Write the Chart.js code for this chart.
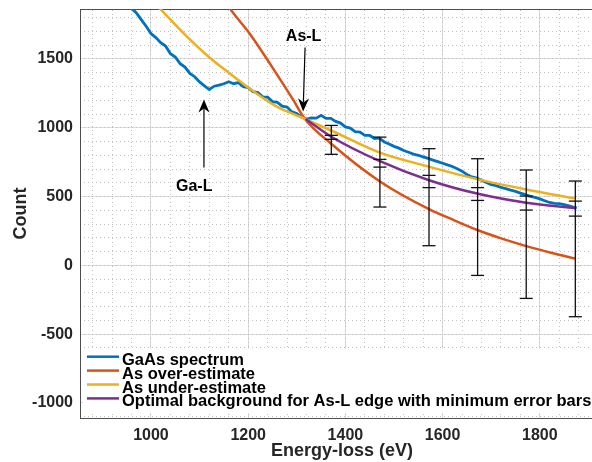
<!DOCTYPE html>
<html>
<head>
<meta charset="utf-8">
<script src="https://cdn.jsdelivr.net/npm/chart.js@4.4.1/dist/chart.umd.min.js"></script>
<style>
  html, body { margin: 0; padding: 0; background: #fff; overflow: hidden; }
  #wrap { width: 592px; height: 462px; overflow: hidden; }
</style>
</head>
<body>
<div id="wrap"><canvas id="chart" width="604" height="462"></canvas></div>
<script>
const FONT = '"Liberation Sans", Arial, Helvetica, sans-serif';
const TEXT = '#262626';

// GaAs spectrum, energy-loss (eV) vs counts
const spectrumE = [950, 960, 970, 980, 990, 1000, 1010, 1020, 1030, 1040, 1050, 1060, 1070, 1080, 1090,
  1100, 1110, 1120, 1130, 1140, 1150, 1160, 1170, 1180, 1190, 1200, 1210, 1220, 1230, 1240, 1250,
  1260, 1270, 1280, 1290, 1300, 1310, 1320, 1330, 1340, 1350, 1360, 1370, 1380, 1390, 1400, 1410,
  1420, 1430, 1440, 1450, 1460, 1470, 1480, 1490, 1500, 1510, 1520, 1530, 1540, 1550, 1560, 1570,
  1580, 1590, 1600, 1610, 1620, 1630, 1640, 1650, 1660, 1670, 1680, 1690, 1700, 1710, 1720, 1730,
  1740, 1750, 1760, 1770, 1780, 1790, 1800, 1810, 1820, 1830, 1840, 1850, 1860, 1870, 1876];
const spectrumCounts = [1920, 1868, 1835, 1786, 1738, 1684, 1655, 1618, 1594, 1538, 1514, 1466, 1441, 1395, 1371,
  1333, 1305, 1278, 1302, 1310, 1320, 1334, 1320, 1328, 1298, 1292, 1262, 1255, 1225, 1222, 1190,
  1185, 1157, 1150, 1115, 1103, 1076, 1063, 1072, 1070, 1090, 1068, 1068, 1046, 1034, 1006, 998,
  972, 968, 945, 944, 922, 924, 897, 882, 865, 852, 835, 822, 809, 800, 789, 778,
  765, 754, 742, 730, 719, 702, 685, 660, 643, 634, 619, 602, 587, 580, 567, 558,
  547, 538, 525, 514, 501, 494, 483, 470, 457, 450, 449, 442, 433, 422, 418];

// As over-estimate background
const overE = [1140, 1162, 1204, 1248, 1292, 1316, 1372, 1471, 1573, 1623, 1673, 1722, 1772, 1823, 1874];
const overCounts = [1990, 1868, 1680, 1448, 1206, 1068, 880, 610, 407, 329, 255, 194, 140, 92, 49];

// As under-estimate background
const underE = [1000, 1018, 1073, 1121, 1169, 1210, 1258, 1316, 1382, 1471, 1573, 1673, 1772, 1872];
const underCounts = [1935, 1868, 1666, 1509, 1376, 1267, 1155, 1066, 962, 819, 716, 625, 552, 487];

// optimal background
const optimalE = [1318, 1371, 1471, 1572, 1673, 1772, 1873];
const optimalCounts = [1064, 935, 757, 619, 520, 455, 415];

// error bars
const errE = [1371, 1471, 1572, 1672, 1772, 1873];
const errHigh = [1017, 932, 848, 775, 693, 613];
const errLow = [807, 424, 143, -73, -240, -373];
const errInnerHigh = [945, 770, 654, 565, 504, 467];
const errInnerLow = [916, 714, 565, 472, 402, 358];

const legendLabels = ['GaAs spectrum', 'As over-estimate', 'As under-estimate',
  'Optimal background for As-L edge with minimum error bars'];
const colors = ['#0072BD', '#D95319', '#EDB120', '#7E2F8E'];

const xTickValues = [1000, 1200, 1400, 1600, 1800];
const yTickValues = [-1000, -500, 0, 500, 1000, 1500];
const X_MIN = 854, X_MAX = 1932, Y_MIN = -1109, Y_MAX = 1863;

const annotations = [
  { text: 'Ga-L', tx: 1089, ty: 576, from: [1109, 712], to: [1109, 1206] },
  { text: 'As-L', tx: 1314, ty: 1661, from: [1317, 1584], to: [1313, 1119] }
];

function pairs(xs, ys) {
  return xs.map((x, i) => ({ x: x, y: ys[i] }));
}

function stepTicks(from, to, step) {
  const t = [];
  for (let v = from; v <= to; v += step) t.push({ value: v });
  return t;
}

function noPadding(s) {
  s.paddingTop = 0; s.paddingBottom = 0; s.paddingLeft = 0; s.paddingRight = 0;
}

const errBarPoints = [];
errE.forEach((e, i) => {
  errBarPoints.push({ x: e, y: errLow[i] }, { x: e, y: errHigh[i] }, { x: e, y: null });
});
const errInnerPoints = [];
errE.forEach((e, i) => {
  errInnerPoints.push({ x: e, y: errInnerLow[i] }, { x: e, y: errInnerHigh[i] });
});

function drawArrow(ctx, x1, y1, x2, y2) {
  const a = Math.atan2(y2 - y1, x2 - x1);
  const c = Math.cos(a), s = Math.sin(a);
  const len = 13, half = 5.5, notch = 9;
  ctx.strokeStyle = '#000';
  ctx.fillStyle = '#000';
  ctx.lineWidth = 1.2;
  ctx.beginPath();
  ctx.moveTo(x1, y1);
  ctx.lineTo(x2 - c * notch, y2 - s * notch);
  ctx.stroke();
  ctx.beginPath();
  ctx.moveTo(x2, y2);
  ctx.lineTo(x2 - len * c + half * s, y2 - len * s - half * c);
  ctx.lineTo(x2 - notch * c, y2 - notch * s);
  ctx.lineTo(x2 - len * c - half * s, y2 - len * s + half * c);
  ctx.closePath();
  ctx.fill();
}

const overlayPlugin = {
  id: 'overlay',
  afterDatasetsDraw(chart) {
    const { ctx, chartArea } = chart;
    const x = chart.scales.x, y = chart.scales.y;
    ctx.save();

    // Ga-L / As-L labels with arrows
    ctx.font = 'bold 16px ' + FONT;
    ctx.textAlign = 'center';
    ctx.textBaseline = 'middle';
    annotations.forEach(a => {
      drawArrow(ctx, x.getPixelForValue(a.from[0]), y.getPixelForValue(a.from[1]),
        x.getPixelForValue(a.to[0]), y.getPixelForValue(a.to[1]));
      ctx.fillStyle = '#000';
      ctx.fillText(a.text, x.getPixelForValue(a.tx), y.getPixelForValue(a.ty));
    });

    // legend, bottom-left inside the axes
    const rowH = 13.9;
    const left = chartArea.left + 3;
    const row0 = chartArea.bottom - 61.3;
    ctx.fillStyle = '#fff';
    ctx.fillRect(left, row0 - 8, chartArea.right - left, rowH * 4 + 9);
    ctx.textAlign = 'left';
    ctx.textBaseline = 'alphabetic';
    ctx.font = 'bold 16.5px ' + FONT;
    legendLabels.forEach((label, i) => {
      const ry = row0 + i * rowH;
      ctx.strokeStyle = colors[i];
      ctx.lineWidth = 2.5;
      ctx.beginPath();
      ctx.moveTo(left + 4, ry);
      ctx.lineTo(left + 36, ry);
      ctx.stroke();
      ctx.fillStyle = '#000';
      ctx.fillText(label, left + 39, ry + 8);
    });
    ctx.restore();
  }
};

const tickFont = { family: FONT, size: 16, weight: 'bold' };

new Chart(document.getElementById('chart'), {
  type: 'line',
  data: {
    datasets: [
      {
        label: 'error bars', data: errBarPoints, xAxisID: 'x', yAxisID: 'y', order: 0,
        borderColor: '#111', borderWidth: 1.3, spanGaps: false,
        pointStyle: 'line', pointRadius: 6.5, pointBorderWidth: 1.3, pointBorderColor: '#111'
      },
      {
        label: 'inner error bars', data: errInnerPoints, xAxisID: 'x', yAxisID: 'y', order: 0,
        showLine: false, pointStyle: 'line', pointRadius: 6.5, pointBorderWidth: 1.3, pointBorderColor: '#111'
      },
      {
        label: legendLabels[3], data: pairs(optimalE, optimalCounts), xAxisID: 'x', yAxisID: 'y', order: 1,
        borderColor: colors[3], borderWidth: 2.5, pointRadius: 0, cubicInterpolationMode: 'monotone'
      },
      {
        label: legendLabels[2], data: pairs(underE, underCounts), xAxisID: 'x', yAxisID: 'y', order: 2,
        borderColor: colors[2], borderWidth: 2.5, pointRadius: 0, cubicInterpolationMode: 'monotone'
      },
      {
        label: legendLabels[1], data: pairs(overE, overCounts), xAxisID: 'x', yAxisID: 'y', order: 3,
        borderColor: colors[1], borderWidth: 2.5, pointRadius: 0, cubicInterpolationMode: 'monotone'
      },
      {
        label: legendLabels[0], data: pairs(spectrumE, spectrumCounts), xAxisID: 'x', yAxisID: 'y', order: 4,
        borderColor: colors[0], borderWidth: 2.8, pointRadius: 0, tension: 0
      }
    ]
  },
  options: {
    responsive: false,
    animation: false,
    events: [],
    layout: { autoPadding: false, padding: { top: 9, left: 0, right: 0, bottom: 0 } },
    plugins: { legend: { display: false }, tooltip: { enabled: false } },
    scales: {
      x: {
        type: 'linear', position: 'bottom', min: X_MIN, max: X_MAX,
        afterBuildTicks: s => { s.ticks = xTickValues.map(v => ({ value: v })); },
        afterFit: s => { s.height = 44; noPadding(s); },
        ticks: {
          autoSkip: false, maxRotation: 0, padding: 7.5,
          color: TEXT, font: tickFont,
          callback: v => String(v)
        },
        grid: { color: '#dcdcdc', lineWidth: 1, drawTicks: false },
        border: { display: true, color: '#4d4d4d', width: 1 },
        title: {
          display: true, text: 'Energy-loss (eV)', color: TEXT,
          font: { family: FONT, size: 18, weight: 'bold' }, padding: { top: 0, bottom: 0 }
        }
      },
      xMinor: {
        type: 'linear', position: 'top', min: X_MIN, max: X_MAX,
        afterBuildTicks: s => { s.ticks = stepTicks(880, X_MAX, 40); },
        afterFit: s => { s.height = 0; noPadding(s); },
        ticks: { display: false, autoSkip: false },
        grid: { color: '#c0c0c0', lineWidth: 1, drawTicks: false },
        border: { display: true, color: '#4d4d4d', width: 1, dash: [1, 3] }
      },
      y: {
        type: 'linear', position: 'left', min: Y_MIN, max: Y_MAX,
        afterBuildTicks: s => { s.ticks = yTickValues.map(v => ({ value: v })); },
        afterFit: s => { s.width = 80; noPadding(s); },
        ticks: {
          autoSkip: false, padding: 7,
          color: TEXT, font: tickFont,
          callback: v => String(v)
        },
        grid: { color: '#dcdcdc', lineWidth: 1, drawTicks: false },
        border: { display: true, color: '#4d4d4d', width: 1 },
        title: {
          display: true, text: 'Count', color: TEXT,
          font: { family: FONT, size: 18, weight: 'bold' }, padding: { top: 10, bottom: 0 }
        }
      },
      yMinor: {
        type: 'linear', position: 'right', min: Y_MIN, max: Y_MAX,
        afterBuildTicks: s => { s.ticks = stepTicks(-1100, Y_MAX, 100); },
        afterFit: s => { s.width = 0; noPadding(s); },
        ticks: { display: false, autoSkip: false },
        grid: { color: '#c0c0c0', lineWidth: 1, drawTicks: false },
        border: { display: false, dash: [1, 3] }
      }
    }
  },
  plugins: [overlayPlugin]
});
</script>
</body>
</html>
